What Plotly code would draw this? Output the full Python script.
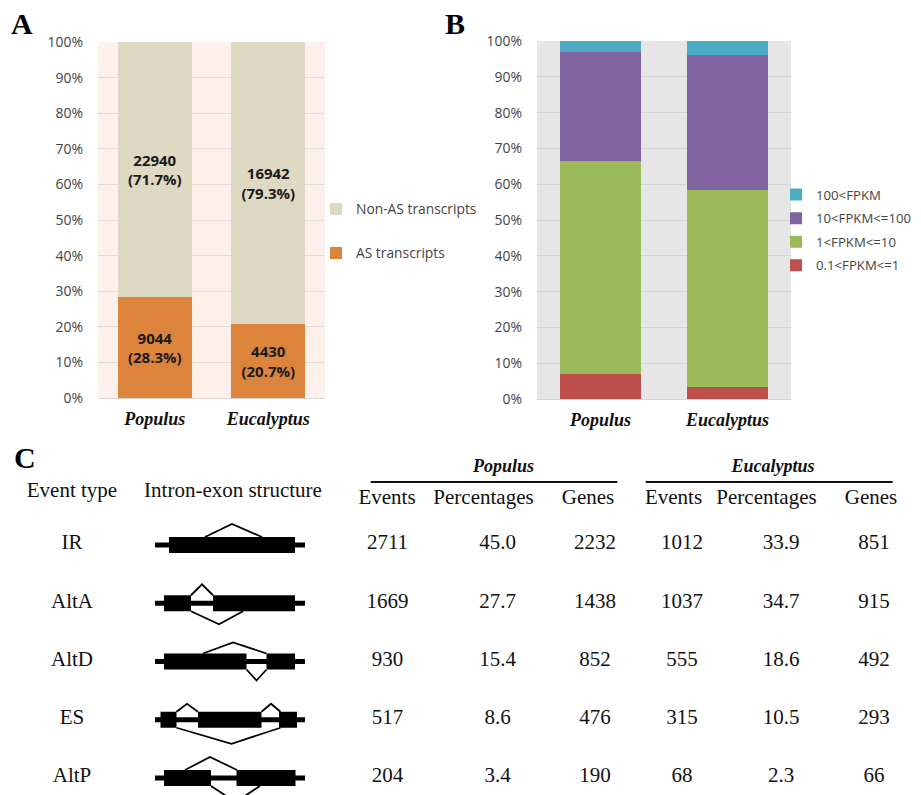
import plotly.graph_objects as go

# ---------------- data ----------------
species = ["Populus", "Eucalyptus"]
as_counts = [9044, 4430]
nonas_counts = [22940, 16942]
as_pct = [28.3, 20.7]
nonas_pct = [71.7, 79.3]

fpkm_01_1 = [6.9, 3.4]
fpkm_1_10 = [59.5, 55.1]
fpkm_10_100 = [30.5, 37.5]
fpkm_100 = [3.1, 4.0]

event_types = ["IR", "AltA", "AltD", "ES", "AltP"]
pop_events = [2711, 1669, 930, 517, 204]
pop_pct = [45.0, 27.7, 15.4, 8.6, 3.4]
pop_genes = [2232, 1438, 852, 476, 190]
euc_events = [1012, 1037, 555, 315, 68]
euc_pct = [33.9, 34.7, 18.6, 10.5, 2.3]
euc_genes = [851, 915, 492, 293, 66]

# ---------------- layout helpers ----------------
W, H = 921, 795
OFF = 8  # page body margin offset (screen px)
def px(x):
    return (x - OFF) / W
def py(y):
    return 1 - (y - OFF) / H

SANS = "Open Sans"
SERIF = "Liberation Serif"
TICKC = "#444444"

fig = go.Figure()

# ---------- Panel A ----------
fig.add_trace(go.Bar(
    x=species, y=as_pct, name="AS transcripts", legendgroup="a1", legendrank=2,
    marker=dict(color="#dc843c", line=dict(width=0)), width=0.65,
    text=[f"{c}<br>({p}%)" for c, p in zip(as_counts, as_pct)],
    textposition="inside", insidetextanchor="middle",
    textfont=dict(family=SANS, size=15, color="#1a1a1a", weight="bold"),
    xaxis="x", yaxis="y", legend="legend", hoverinfo="skip"))
fig.add_trace(go.Bar(
    x=species, y=nonas_pct, name="Non-AS transcripts", legendgroup="a2", legendrank=1,
    marker=dict(color="#ddd9c3", line=dict(width=0)), width=0.65,
    text=[f"{c}<br>({p}%)" for c, p in zip(nonas_counts, nonas_pct)],
    textposition="inside", insidetextanchor="middle",
    textfont=dict(family=SANS, size=15, color="#1a1a1a", weight="bold"),
    xaxis="x", yaxis="y", legend="legend", hoverinfo="skip"))

# ---------- Panel B ----------
b_series = [
    ("0.1<FPKM<=1", fpkm_01_1, "#c0504d"),
    ("1<FPKM<=10", fpkm_1_10, "#9bbb59"),
    ("10<FPKM<=100", fpkm_10_100, "#8064a2"),
    ("100<FPKM", fpkm_100, "#4bacc6"),
]
for i, (nm, vals, col) in enumerate(b_series):
    fig.add_trace(go.Bar(
        x=species, y=vals, name=nm, legendgroup=f"b{i}", legendrank=len(b_series) - i,
        marker=dict(color=col, line=dict(width=0)), width=0.645,
        xaxis="x2", yaxis="y2", legend="legend2", hoverinfo="skip"))

# ---------- Panel C (table) ----------
row_y0, row_dy = 544, 58.25
rows_y = [row_y0 + i * row_dy for i in range(len(event_types))]

cols = [
    (72, event_types),
    (387.5, [str(v) for v in pop_events]),
    (497.5, [f"{v:.1f}" for v in pop_pct]),
    (595, [str(v) for v in pop_genes]),
    (682, [str(v) for v in euc_events]),
    (781, [f"{v:.1f}" for v in euc_pct]),
    (874, [str(v) for v in euc_genes]),
]
for cx, texts in cols:
    fig.add_trace(go.Scatter(
        x=[cx] * len(texts), y=rows_y, text=texts, mode="text",
        textposition="middle center",
        textfont=dict(family=SERIF, size=21, color="#111111"),
        xaxis="x3", yaxis="y3", showlegend=False, hoverinfo="skip"))

# headers
hdr = [
    (72, 492, "Event type"), (233, 492, "Intron-exon structure"),
    (387, 498.5, "Events"), (483.5, 498.5, "Percentages"), (588, 498.5, "Genes"),
    (673.5, 498.5, "Events"), (766.5, 498.5, "Percentages"), (871, 498.5, "Genes"),
]
fig.add_trace(go.Scatter(
    x=[h[0] for h in hdr], y=[h[1] for h in hdr], text=[h[2] for h in hdr],
    mode="text", textposition="middle center",
    textfont=dict(family=SERIF, size=21, color="#111111"),
    xaxis="x3", yaxis="y3", showlegend=False, hoverinfo="skip"))
fig.add_trace(go.Scatter(
    x=[503.5, 773], y=[467, 467],
    text=[f"<b><i>{species[0]}</i></b>", f"<b><i>{species[1]}</i></b>"],
    mode="text", textposition="middle center",
    textfont=dict(family=SERIF, size=18, color="#111111"),
    xaxis="x3", yaxis="y3", showlegend=False, hoverinfo="skip"))

shapes = []
# panel backgrounds
shapes.append(dict(type="rect", xref="x domain", yref="y domain", x0=0, x1=1, y0=0, y1=1,
                   fillcolor="#fdf0eb", line=dict(width=0), layer="below"))
shapes.append(dict(type="rect", xref="x2 domain", yref="y2 domain", x0=0, x1=1, y0=0, y1=1,
                   fillcolor="#e6e6e6", line=dict(width=0), layer="below"))
# header rules
for x0, x1 in [(370.7, 617.3), (645.7, 892.7)]:
    shapes.append(dict(type="line", xref="x3", yref="y3", x0=x0, x1=x1, y0=482, y1=482,
                       line=dict(color="#111111", width=2)))

# intron-exon structure diagrams: exon boxes and splice arcs (x0, x_apex, x1, apex offset)
structures = {
    "IR":   dict(exons=[(169, 295)], arcs=[(205, 232, 262, -21)]),
    "AltA": dict(exons=[(164, 191), (213, 295)],
                 arcs=[(191, 202, 213, -19), (191, 219, 243, 21)]),
    "AltD": dict(exons=[(164, 246.5), (266.5, 295)],
                 arcs=[(203, 233, 266.5, -19), (246.5, 256.5, 266.5, 19)]),
    "ES":   dict(exons=[(160.5, 176.5), (198, 261.5), (279, 297)],
                 arcs=[(176.5, 187, 198, -16), (261.5, 271, 280.5, -16), (176.5, 231.5, 280.5, 24)]),
    "AltP": dict(exons=[(164, 211), (236.5, 295.5)],
                 arcs=[(185, 210, 237, -21), (211, 235.5, 260, 24)]),
}
box_h, line_h = 8, 2.6
for ev, yc in zip(event_types, rows_y):
    st = structures[ev]
    yc = yc + 1
    shapes.append(dict(type="rect", xref="x3", yref="y3", x0=155, x1=305,
                       y0=yc - line_h, y1=yc + line_h, fillcolor="black", line=dict(width=0)))
    for a, b in st["exons"]:
        shapes.append(dict(type="rect", xref="x3", yref="y3", x0=a, x1=b,
                           y0=yc - box_h, y1=yc + box_h, fillcolor="black", line=dict(width=0)))
    for a, m, b, off in st["arcs"]:
        ye = yc - box_h if off < 0 else yc + box_h
        shapes.append(dict(type="path", xref="x3", yref="y3",
                           path=f"M{a},{ye} L{m},{yc + off} L{b},{ye}",
                           line=dict(color="black", width=1.8)))

def panel_label(txt, x, y):
    return dict(text=f"<b>{txt}</b>", x=px(x), y=py(y), xref="paper", yref="paper",
                xanchor="center", yanchor="middle", showarrow=False,
                font=dict(family=SERIF, size=30, color="black"))

annotations = [panel_label("A", 22, 24), panel_label("B", 455, 24), panel_label("C", 25, 457)]

cat_ticktext = [f"<b><i>{s}</i></b>" for s in species]
yticks = list(range(0, 101, 10))
yticktext = [f"{v}%" for v in yticks]

fig.update_layout(
    width=W, height=H, margin=dict(l=0, r=0, t=0, b=0, autoexpand=False),
    paper_bgcolor="white", plot_bgcolor="rgba(0,0,0,0)",
    barmode="stack", bargap=0.35,
    showlegend=True,
    shapes=shapes, annotations=annotations,
    xaxis=dict(domain=[px(98), px(325)], range=[-0.5, 1.5], type="category",
               tickvals=species, ticktext=cat_ticktext,
               tickfont=dict(family=SERIF, size=18, color="#111111"),
               showline=True, linecolor="#dcd4d0", linewidth=1, ticks="", ticklabelstandoff=4,
               showgrid=False, fixedrange=True, anchor="y"),
    yaxis=dict(domain=[py(398), py(42)], range=[0, 100], tickvals=yticks, ticktext=yticktext,
               tickfont=dict(family=SANS, size=14, color=TICKC),
               showgrid=True, gridcolor="#e3dbd7", gridwidth=1, zeroline=False,
               ticks="", ticklabelstandoff=14, fixedrange=True, anchor="x"),
    xaxis2=dict(domain=[px(537), px(791)], range=[-0.5, 1.5], type="category",
                tickvals=species, ticktext=cat_ticktext,
                tickfont=dict(family=SERIF, size=18, color="#111111"),
                showline=True, linecolor="#d4d4d4", linewidth=1, ticks="", ticklabelstandoff=4,
                showgrid=False, fixedrange=True, anchor="y2"),
    yaxis2=dict(domain=[py(399), py(41)], range=[0, 100], tickvals=yticks, ticktext=yticktext,
                tickfont=dict(family=SANS, size=14, color=TICKC),
                showgrid=True, gridcolor="#d2d2d2", gridwidth=1, zeroline=False,
                ticks="", ticklabelstandoff=14, fixedrange=True, anchor="x2"),
    xaxis3=dict(domain=[0, 1], range=[OFF, W + OFF], visible=False, fixedrange=True, anchor="y3"),
    yaxis3=dict(domain=[0, py(440)], range=[H + OFF, 440], visible=False, fixedrange=True, anchor="x3"),
    legend=dict(x=px(316), y=py(193.5), xanchor="left", yanchor="top",
                traceorder="grouped", tracegroupgap=23,
                font=dict(family=SANS, size=13.8, color=TICKC), bgcolor="rgba(0,0,0,0)"),
    legend2=dict(x=px(776), y=py(179.5), xanchor="left", yanchor="top",
                 traceorder="grouped", tracegroupgap=3.4,
                 font=dict(family=SANS, size=13.2, color=TICKC), bgcolor="rgba(0,0,0,0)"),
)

fig.write_html("out.html")
